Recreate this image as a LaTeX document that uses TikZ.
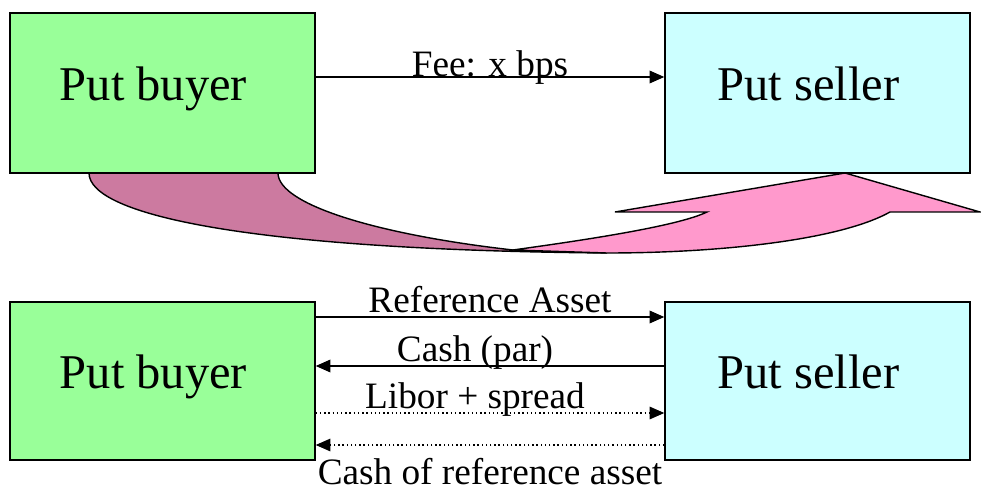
\documentclass[tikz,border=0pt]{standalone}
\usepackage{fontspec}
\setmainfont{Liberation Serif}
\usetikzlibrary{calc}
\usetikzlibrary{arrows.meta}
\definecolor{buyColor}{RGB}{153,255,153}
\definecolor{sellColor}{RGB}{204,255,255}
\definecolor{backColor}{RGB}{204,122,160}
\definecolor{frontColor}{RGB}{255,153,204}

\begin{document}
\begin{tikzpicture}[x=0.25mm,y=-0.25mm,
    party/.style={draw,line width=1pt,minimum width=76.25mm,minimum height=40mm,inner sep=0pt,
        text height=24pt,text depth=13.5pt,execute at end node=\hspace*{4.5mm},font=\fontsize{34.5}{38}\selectfont},
    flow/.style={line width=1pt,-{Triangle[length=10.5pt,width=9pt]}},
    coupon/.style={flow,dotted,line width=0.8pt},
    lbl/.style={anchor=base,font=\fontsize{26.5}{30}\selectfont}]

    \useasboundingbox (0,0) rectangle (981,492);

    % swap arrow: back half, then front half with the head
    \draw[fill=backColor,line width=1pt] (89,173) .. controls (89,215) and (250,250) .. (607,253) -- (513,250) .. controls (380,235) and (278,205) .. (278,173) -- cycle;
    \draw[fill=frontColor,line width=1pt] (513,250) .. controls (600,238) and (680,225) .. (707,212) -- (615,212) -- (845,173) -- (980,212) -- (890,212) .. controls (840,240) and (720,253) .. (607,253) -- cycle;

    \node[party,fill=buyColor] (B1) at (162.5,93) {Put buyer};
    \node[party,fill=sellColor] (S1) at (817.5,93) {Put seller};
    \node[party,fill=buyColor,minimum height=39.5mm] (B2) at (162.5,381) {Put buyer};
    \node[party,fill=sellColor,minimum height=39.5mm] (S2) at (817.5,381) {Put seller};

    \draw[flow] ([yshift=4mm]B1.east) -- ([yshift=4mm]S1.west) node[lbl,midway] {Fee: x bps};

    \draw[flow] ([yshift=16mm]B2.east) -- ([yshift=16mm]S2.west) node[lbl,midway,yshift=1mm] {Reference Asset};
    \draw[flow] ([yshift=3.75mm]S2.west) -- ([yshift=3.75mm]B2.east) node[lbl,midway,yshift=1mm,xshift=-3.75mm] {Cash (par)};
    \draw[coupon] ([yshift=-8mm]B2.east) -- ([yshift=-8mm]S2.west) node[lbl,midway,yshift=1.25mm,xshift=-3.75mm] {Libor + spread};
    \draw[coupon] ([yshift=-16mm]S2.west) -- ([yshift=-16mm]B2.east) node[lbl,midway,yshift=-9.75mm] {Cash of reference asset};
\end{tikzpicture}
\end{document}
